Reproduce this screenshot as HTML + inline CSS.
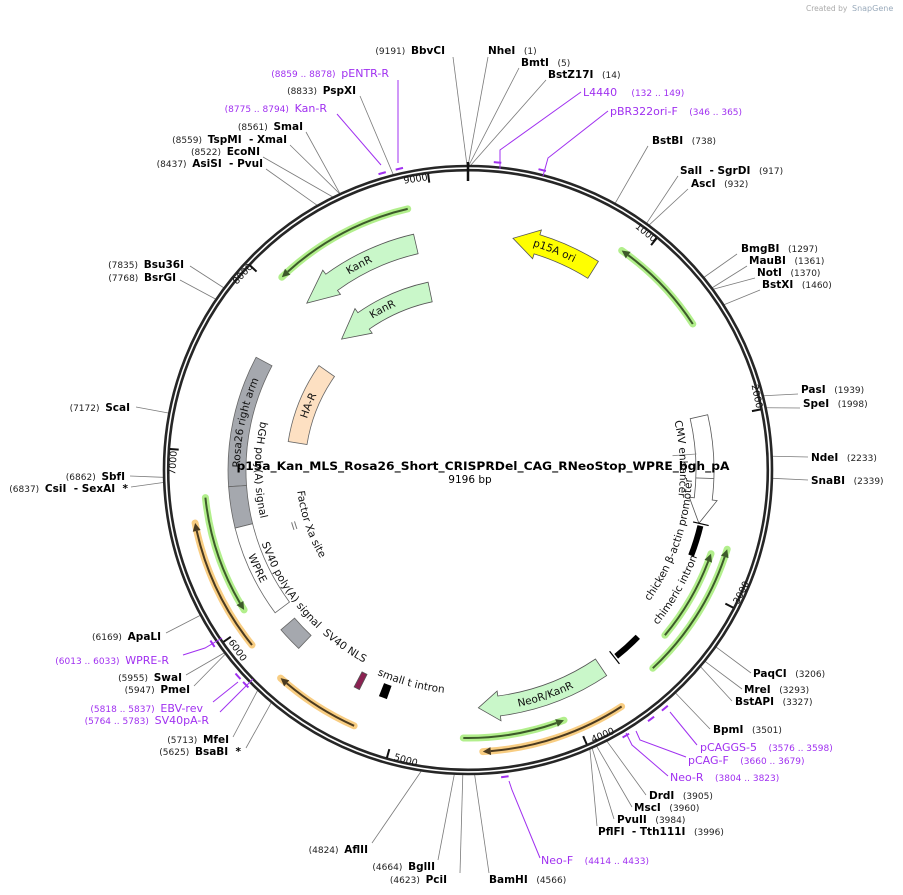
<!DOCTYPE html>
<html><head><meta charset="utf-8"><style>
html,body{margin:0;padding:0;background:#fff;}
svg{display:block;font-family:"DejaVu Sans","Liberation Sans",sans-serif;}
text{white-space:pre;}
.n{font-weight:bold;font-size:10.5px;fill:#000;}
.b{font-size:9px;fill:#222;}
.p{font-size:11px;fill:#a030f0;}
.pb{font-size:9px;fill:#a030f0;}
.rl{stroke:#7a7a7a;stroke-width:0.8;fill:none;}
.pl{stroke:#a030f0;stroke-width:1;fill:none;}
.ft{font-size:10.5px;fill:#111;}
.tk{font-size:9.5px;fill:#111;}
</style></head><body>
<svg id="s" width="903" height="895" viewBox="0 0 903 895" xmlns="http://www.w3.org/2000/svg">
<defs>
<path id="tpP15"/><path id="tpKan1"/><path id="tpKan2"/><path id="tpRosa"/><path id="tpHA"/>
<path id="tpCMV"/><path id="tpChick"/><path id="tpChim"/><path id="tpNeo"/><path id="tpBGH"/>
<path id="tpFXa"/><path id="tpSV40pA"/><path id="tpWPRE"/><path id="tpNLS"/><path id="tpSmall"/>
</defs>
<text x="806" y="11" font-size="7.5" fill="#aaa">Created by</text>
<text x="852" y="11" font-size="8" fill="#9ab">SnapGene</text>
<g id="lines"></g>
<g id="feat"></g>
<g id="ring"></g>

<text x="483" y="470" text-anchor="middle" font-weight="bold" font-size="11.5" textLength="493" lengthAdjust="spacingAndGlyphs">p15a_Kan_MLS_Rosa26_Short_CRISPRDel_CAG_RNeoStop_WPRE_bgh_pA</text>
<text x="470" y="483" text-anchor="middle" font-size="10.5">9196 bp</text>

<text class="tk" text-anchor="middle" transform="translate(644,235) rotate(39)">1000</text>
<text class="tk" text-anchor="middle" transform="translate(754,397) rotate(78)">2000</text>
<text class="tk" text-anchor="middle" transform="translate(744,594) rotate(-63)">3000</text>
<text class="tk" text-anchor="middle" transform="translate(604,738) rotate(-23)">4000</text>
<text class="tk" text-anchor="middle" transform="translate(405,763) rotate(16)">5000</text>
<text class="tk" text-anchor="middle" transform="translate(235,652) rotate(55)">6000</text>
<text class="tk" text-anchor="middle" transform="translate(176,463) rotate(-86)">7000</text>
<text class="tk" text-anchor="middle" transform="translate(245,276) rotate(-47)">8000</text>
<text class="tk" text-anchor="middle" transform="translate(416,182) rotate(-8)">9000</text>

<text class="ft" font-size="10"><textPath href="#tpP15" startOffset="50%" text-anchor="middle">p15A ori</textPath></text>
<text class="ft" font-size="10"><textPath href="#tpKan1" startOffset="50%" text-anchor="middle">KanR</textPath></text>
<text class="ft" font-size="10"><textPath href="#tpKan2" startOffset="50%" text-anchor="middle">KanR</textPath></text>
<text class="ft"><textPath href="#tpRosa" startOffset="50%" text-anchor="middle">Rosa26 right arm</textPath></text>
<text class="ft"><textPath href="#tpHA" startOffset="50%" text-anchor="middle">HA-R</textPath></text>
<text class="ft"><textPath href="#tpCMV" startOffset="50%" text-anchor="middle">CMV enhancer</textPath></text>
<text class="ft"><textPath href="#tpChick" startOffset="50%" text-anchor="middle">chicken β-actin promoter</textPath></text>
<text class="ft"><textPath href="#tpChim" startOffset="50%" text-anchor="middle">chimeric intron</textPath></text>
<text class="ft"><textPath href="#tpNeo" startOffset="50%" text-anchor="middle">NeoR/KanR</textPath></text>
<text class="ft"><textPath href="#tpBGH" startOffset="50%" text-anchor="middle">bGH poly(A) signal</textPath></text>
<text class="ft"><textPath href="#tpFXa" startOffset="50%" text-anchor="middle">Factor Xa site</textPath></text>
<text class="ft"><textPath href="#tpSV40pA" startOffset="50%" text-anchor="middle">SV40 poly(A) signal</textPath></text>
<text class="ft"><textPath href="#tpWPRE" startOffset="50%" text-anchor="middle">WPRE</textPath></text>
<text class="ft"><textPath href="#tpNLS" startOffset="50%" text-anchor="middle">SV40 NLS</textPath></text>
<text class="ft"><textPath href="#tpSmall" startOffset="50%" text-anchor="middle">small t intron</textPath></text>

<g class="pl">
<polyline points="398,80 398,163"/>
<polyline points="337,114 381,165"/>
<polyline points="581,92 500,150 500,169"/>
<polyline points="608,111 548,158 543,176"/>
<polyline points="697,745 670,712"/>
<polyline points="686,757 640,740 636,731"/>
<polyline points="668,776 632,745 626,733"/>
<polyline points="540,858 512,790 509,781"/>
<polyline points="183,655 205,648 222,638"/>
<polyline points="213,702 238,682"/>
<polyline points="220,712 253,679"/>
</g>

<g>
<text x="445" y="54" text-anchor="end"><tspan class="b">(9191)  </tspan><tspan class="n">BbvCI</tspan></text>
<text x="488" y="54"><tspan class="n">NheI</tspan><tspan class="b">   (1)</tspan></text>
<text x="521" y="66"><tspan class="n">BmtI</tspan><tspan class="b">   (5)</tspan></text>
<text x="548" y="78"><tspan class="n">BstZ17I</tspan><tspan class="b">   (14)</tspan></text>
<text x="389" y="77" text-anchor="end"><tspan class="pb">(8859 .. 8878)  </tspan><tspan class="p">pENTR-R</tspan></text>
<text x="356" y="94" text-anchor="end"><tspan class="b">(8833)  </tspan><tspan class="n">PspXI</tspan></text>
<text x="327" y="112" text-anchor="end"><tspan class="pb">(8775 .. 8794)  </tspan><tspan class="p">Kan-R</tspan></text>
<text x="303" y="130" text-anchor="end"><tspan class="b">(8561)  </tspan><tspan class="n">SmaI</tspan></text>
<text x="287" y="143" text-anchor="end"><tspan class="b">(8559)  </tspan><tspan class="n">TspMI  - XmaI</tspan></text>
<text x="260" y="155" text-anchor="end"><tspan class="b">(8522)  </tspan><tspan class="n">EcoNI</tspan></text>
<text x="263" y="167" text-anchor="end"><tspan class="b">(8437)  </tspan><tspan class="n">AsiSI  - PvuI</tspan></text>
<text x="583" y="96"><tspan class="p">L4440</tspan><tspan class="pb">     (132 .. 149)</tspan></text>
<text x="610" y="115"><tspan class="p">pBR322ori-F</tspan><tspan class="pb">    (346 .. 365)</tspan></text>
<text x="652" y="144"><tspan class="n">BstBI</tspan><tspan class="b">   (738)</tspan></text>
<text x="680" y="174"><tspan class="n">SalI  - SgrDI</tspan><tspan class="b">   (917)</tspan></text>
<text x="691" y="187"><tspan class="n">AscI</tspan><tspan class="b">   (932)</tspan></text>
<text x="741" y="252"><tspan class="n">BmgBI</tspan><tspan class="b">   (1297)</tspan></text>
<text x="749" y="264"><tspan class="n">MauBI</tspan><tspan class="b">   (1361)</tspan></text>
<text x="757" y="276"><tspan class="n">NotI</tspan><tspan class="b">   (1370)</tspan></text>
<text x="762" y="288"><tspan class="n">BstXI</tspan><tspan class="b">   (1460)</tspan></text>
<text x="801" y="393"><tspan class="n">PasI</tspan><tspan class="b">   (1939)</tspan></text>
<text x="803" y="407"><tspan class="n">SpeI</tspan><tspan class="b">   (1998)</tspan></text>
<text x="811" y="461"><tspan class="n">NdeI</tspan><tspan class="b">   (2233)</tspan></text>
<text x="811" y="484"><tspan class="n">SnaBI</tspan><tspan class="b">   (2339)</tspan></text>
<text x="753" y="677"><tspan class="n">PaqCI</tspan><tspan class="b">   (3206)</tspan></text>
<text x="744" y="693"><tspan class="n">MreI</tspan><tspan class="b">   (3293)</tspan></text>
<text x="735" y="705"><tspan class="n">BstAPI</tspan><tspan class="b">   (3327)</tspan></text>
<text x="713" y="733"><tspan class="n">BpmI</tspan><tspan class="b">   (3501)</tspan></text>
<text x="700" y="751"><tspan class="p">pCAGGS-5</tspan><tspan class="pb">    (3576 .. 3598)</tspan></text>
<text x="688" y="764"><tspan class="p">pCAG-F</tspan><tspan class="pb">    (3660 .. 3679)</tspan></text>
<text x="670" y="781"><tspan class="p">Neo-R</tspan><tspan class="pb">    (3804 .. 3823)</tspan></text>
<text x="649" y="799"><tspan class="n">DrdI</tspan><tspan class="b">   (3905)</tspan></text>
<text x="634" y="811"><tspan class="n">MscI</tspan><tspan class="b">   (3960)</tspan></text>
<text x="617" y="823"><tspan class="n">PvuII</tspan><tspan class="b">   (3984)</tspan></text>
<text x="598" y="835"><tspan class="n">PflFI  - Tth111I</tspan><tspan class="b">   (3996)</tspan></text>
<text x="541" y="864"><tspan class="p">Neo-F</tspan><tspan class="pb">    (4414 .. 4433)</tspan></text>
<text x="489" y="883"><tspan class="n">BamHI</tspan><tspan class="b">   (4566)</tspan></text>
<text x="447" y="883" text-anchor="end"><tspan class="b">(4623)  </tspan><tspan class="n">PciI</tspan></text>
<text x="435" y="870" text-anchor="end"><tspan class="b">(4664)  </tspan><tspan class="n">BglII</tspan></text>
<text x="368" y="853" text-anchor="end"><tspan class="b">(4824)  </tspan><tspan class="n">AflII</tspan></text>
<text x="229" y="743" text-anchor="end"><tspan class="b">(5713)  </tspan><tspan class="n">MfeI</tspan></text>
<text x="241" y="755" text-anchor="end"><tspan class="b">(5625)  </tspan><tspan class="n">BsaBI  *</tspan></text>
<text x="209" y="724" text-anchor="end"><tspan class="pb">(5764 .. 5783)  </tspan><tspan class="p">SV40pA-R</tspan></text>
<text x="203" y="712" text-anchor="end"><tspan class="pb">(5818 .. 5837)  </tspan><tspan class="p">EBV-rev</tspan></text>
<text x="182" y="681" text-anchor="end"><tspan class="b">(5955)  </tspan><tspan class="n">SwaI</tspan></text>
<text x="190" y="693" text-anchor="end"><tspan class="b">(5947)  </tspan><tspan class="n">PmeI</tspan></text>
<text x="169" y="664" text-anchor="end"><tspan class="pb">(6013 .. 6033)  </tspan><tspan class="p">WPRE-R</tspan></text>
<text x="161" y="640" text-anchor="end"><tspan class="b">(6169)  </tspan><tspan class="n">ApaLI</tspan></text>
<text x="125" y="480" text-anchor="end"><tspan class="b">(6862)  </tspan><tspan class="n">SbfI</tspan></text>
<text x="128" y="492" text-anchor="end"><tspan class="b">(6837)  </tspan><tspan class="n">CsiI  - SexAI  *</tspan></text>
<text x="130" y="411" text-anchor="end"><tspan class="b">(7172)  </tspan><tspan class="n">ScaI</tspan></text>
<text x="184" y="268" text-anchor="end"><tspan class="b">(7835)  </tspan><tspan class="n">Bsu36I</tspan></text>
<text x="176" y="281" text-anchor="end"><tspan class="b">(7768)  </tspan><tspan class="n">BsrGI</tspan></text>
</g>
</svg>
<script>
(function(){
var NS="http://www.w3.org/2000/svg",cx=468,cy=470;
function P(r,a){a=a*Math.PI/180;return [cx+r*Math.sin(a),cy-r*Math.cos(a)];}
function f(p){return p[0].toFixed(1)+","+p[1].toFixed(1);}
function arc(r,a1,a2,mv){var p1=P(r,a1),p2=P(r,a2);return (mv===false?" L":"M")+f(p1)+" A"+r+","+r+" 0 "+(Math.abs(a2-a1)>180?1:0)+" "+(a2>a1?1:0)+" "+f(p2);}
function el(g,t,at){var e=document.createElementNS(NS,t);for(var k in at)e.setAttribute(k,at[k]);document.getElementById(g).appendChild(e);return e;}
function band(r1,r2,a1,a2,fill,stroke){el("feat","path",{d:arc(r2,a1,a2)+arc(r1,a2,a1,false)+"Z",fill:fill,stroke:stroke||"#666","stroke-width":0.8});}
function abar(r1,r2,at,ah,hd,fill){var s=ah>at?1:-1,ab=ah-s*hd,rm=(r1+r2)/2;
 el("feat","path",{d:arc(r2,at,ab)+" L"+f(P(r2+5,ab))+" L"+f(P(rm,ah))+" L"+f(P(r1-5,ab))+arc(r1,ab,at,false)+"Z",fill:fill,stroke:"#555","stroke-width":0.8});}
function primer(r,at,ah,halo,dark){var s=ah>at?1:-1,hd=8/r*180/Math.PI,ab=ah-s*hd;
 el("feat","path",{d:arc(r,at,ah),stroke:halo,"stroke-width":7,fill:"none","stroke-linecap":"round"});
 el("feat","path",{d:arc(r,at,ab),stroke:dark,"stroke-width":2,fill:"none"});
 el("feat","path",{d:"M"+f(P(r,ah))+" L"+f(P(r+4,ab))+" L"+f(P(r-4,ab))+"Z",fill:dark});}
function tp(id,r,a1,a2){document.getElementById(id).setAttribute("d",arc(r,a1,a2));}
el("ring","circle",{cx:cx,cy:cy,r:304,fill:"none",stroke:"#262626","stroke-width":2.6});
el("ring","circle",{cx:cx,cy:cy,r:299.8,fill:"none",stroke:"#262626","stroke-width":2.6});
for(var i=1;i<=9;i++){var a=i*1000/9196*360;var p1=P(299,a),p2=P(290,a);el("ring","line",{x1:p1[0],y1:p1[1],x2:p2[0],y2:p2[1],stroke:"#111","stroke-width":2});}
var t1=P(308,0),t2=P(289,0);el("ring","line",{x1:t1[0],y1:t1[1],x2:t2[0],y2:t2[1],stroke:"#111","stroke-width":2.5});
var L=[[453,57,9191],[488,57,1],[519,68,5],[546,80,14],[360,96,8833],[306,132,8561],[290,145,8559],[263,157,8522],[266,169,8437],
[648,146,738],[678,176,917],[688,189,932],[737,254,1297],[747,266,1361],[755,278,1370],[760,290,1460],[798,394,1939],[800,408,1998],
[808,457,2233],[808,480,2339],[751,673,3206],[742,689,3293],[732,701,3327],[710,729,3501],[646,795,3905],[632,807,3960],[614,819,3984],[597,826,3996],
[489,873,4566],[460,873,4623],[438,860,4664],[372,843,4824],[233,737,5713],[246,748,5625],[186,675,5955],[194,686,5947],[166,633,6169],
[130,476,6862],[131,487,6837],[136,407,7172],[190,266,7835],[180,280,7768]];
L.forEach(function(l){var p=P(305,l[2]/9196*360);el("lines","line",{x1:l[0],y1:l[1],x2:p[0],y2:p[1],"class":"rl"});});
[8868,8784,140,355,3587,3670,3813,4423,6023,5827,5773].forEach(function(b){var a=b/9196*360;el("lines","path",{d:arc(309,a-0.7,a+0.7),stroke:"#a030f0","stroke-width":2,fill:"none"});});
var G="#c9f7c9",HG="#b2ef8c",DG="#3d5a2a",HO="#f8cd82",DO="#4a3a20";
primer(268,347,316,HG,DG);
abar(222,242,347,316,8,G);
abar(172,192,348,316,9,G);
abar(226,246,32,11,6,"#ffff00");
primer(268,57,35,HG,DG);
abar(228,246,77,103,6,"#fff");
(function(){var p1=P(228,92),p2=P(246,92);el("feat","line",{x1:p1[0],y1:p1[1],x2:p2[0],y2:p2[1],stroke:"#666","stroke-width":0.8});})();
el("feat","path",{d:arc(239,103.5,111),stroke:"#000","stroke-width":6,fill:"none"});
el("feat","path",{d:arc(238,134.5,141.5),stroke:"#000","stroke-width":6,fill:"none"});
[[103,239],[142,238]].forEach(function(t){var p1=P(t[1]-8,t[0]),p2=P(t[1]+8,t[0]);el("feat","line",{x1:p1[0],y1:p1[1],x2:p2[0],y2:p2[1],stroke:"#000","stroke-width":1.2});});
primer(257,130,109,HG,DG);
primer(271,137,107,HG,DG);
abar(228,248,146,177.5,5,G);
primer(268,181,159,HG,DG);
primer(282,147,177,HO,DO);
primer(280,204,222,HO,DO);
primer(278,231,259,HO,DO);
primer(264,264,238,HG,DG);
band(222,240,266,298,"#a5a8ae","#666");
band(222,240,256,266,"#a5a8ae","#666");
band(222,240,233.5,256,"#fff","#666");
band(228,246,223.5,229.5,"#a5a8ae","#666");
band(163,182,279,305,"#fde0c2","#666");
band(228,245,206.3,207.7,"#8b2252","#555");
el("feat","path",{d:arc(236,199.5,201.5),stroke:"#000","stroke-width":14,fill:"none"});
el("feat","path",{d:arc(181,251,253.5),stroke:"#777","stroke-width":1,fill:"none"});
el("feat","path",{d:arc(184,251,253.5),stroke:"#777","stroke-width":1,fill:"none"});
(function(){var p1=P(205,86),p2=P(229,86);el("feat","line",{x1:p1[0],y1:p1[1],x2:p2[0],y2:p2[1],stroke:"#888","stroke-width":0.8});})();
tp("tpP15",233,10,33);
tp("tpKan1",229,318,346);
tp("tpKan2",179,318,346);
tp("tpRosa",228,262,302);
tp("tpHA",169,276,308);
tp("tpCMV",212,66,108);
tp("tpChick",224,132,86);
tp("tpChim",245,136,104);
tp("tpNeo",242,178,144);
tp("tpBGH",213,292,248);
tp("tpFXa",172,268,234);
tp("tpSV40pA",219,256,218);
tp("tpWPRE",236,258,232);
tp("tpNLS",219,226,204);
tp("tpSmall",224,212,178);
})();
</script>
</body></html>
